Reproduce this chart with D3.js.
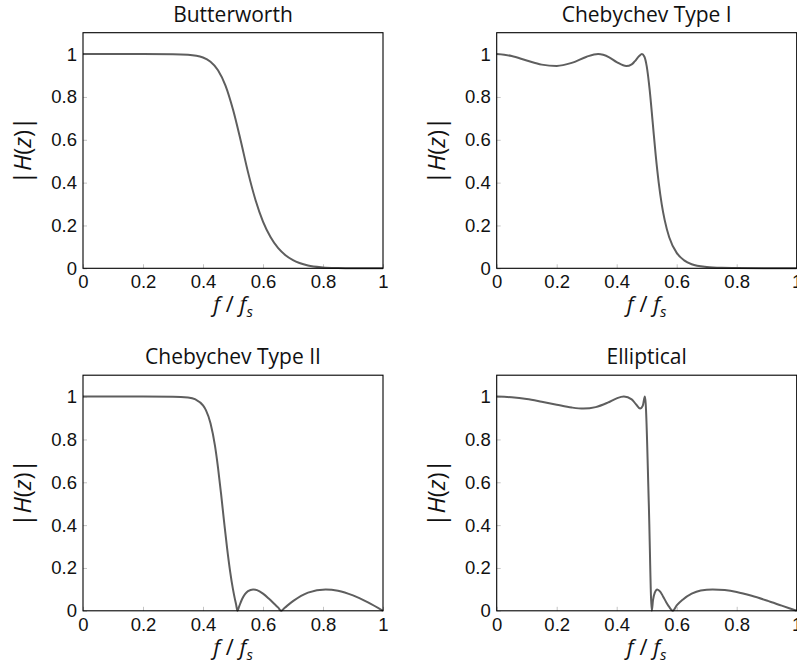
<!DOCTYPE html>
<html>
  <head>
    <meta charset='utf-8'>
    <title>Filter responses</title>
    <script src='https://d3js.org/d3.v7.min.js'></script>
    <style type='text/css'>
      body, html {
        margin: 0;
        padding: 0;
        background: #fff;
        overflow: hidden;
      }
      svg {
        display: block;
        font-family: 'Open Sans', sans-serif;
      }
      .tick line {
        stroke: #c4c4c4;
      }
      .tick text {
        font-size: 18.5px;
        fill: #111;
      }
    </style>
  </head>
  <body>
    <svg width='797' height='667'></svg>

    <script type='text/javascript'>
      // values (normalised frequency f/fs, |H(z)|)
      var butterworthFreq = [0, 0.1, 0.2, 0.3, 0.35, 0.4, 0.425, 0.45, 0.475, 0.5, 0.525, 0.55, 0.575, 0.6, 0.625, 0.65, 0.675, 0.7, 0.75, 0.8, 0.85, 0.9, 1.0]
      var butterworthMag = [1, 1, 1, 0.9995, 0.997, 0.984, 0.964, 0.925, 0.853, 0.741, 0.6, 0.449, 0.319, 0.218, 0.146, 0.095, 0.061, 0.038, 0.013, 0.004, 0.001, 0, 0]

      var cheby1Freq = [0, 0.05, 0.1, 0.15, 0.2, 0.25, 0.3, 0.338, 0.375, 0.4, 0.432, 0.45, 0.46, 0.475, 0.484, 0.492, 0.5, 0.51, 0.52, 0.53, 0.54, 0.55, 0.56, 0.575, 0.6, 0.625, 0.65, 0.7, 0.75, 0.8, 1.0]
      var cheby1Mag = [1, 0.991, 0.970, 0.951, 0.945, 0.959, 0.988, 1.0, 0.985, 0.963, 0.944, 0.952, 0.966, 0.991, 1.0, 0.989, 0.944, 0.832, 0.681, 0.528, 0.40, 0.30, 0.225, 0.145, 0.072, 0.037, 0.019, 0.006, 0.002, 0.001, 0]

      var cheby2Freq = [0, 0.1, 0.2, 0.3, 0.35, 0.375, 0.4, 0.41, 0.425, 0.44, 0.45, 0.46, 0.47, 0.48, 0.49, 0.5, 0.505, 0.51, 0.515, 0.52, 0.53, 0.54, 0.55, 0.567, 0.58, 0.6, 0.62, 0.64, 0.65, 0.661, 0.67, 0.68, 0.7, 0.75, 0.809, 0.85, 0.9, 0.95, 1.0]
      var cheby2Mag = [1, 1, 1, 0.9995, 0.996, 0.987, 0.959, 0.936, 0.876, 0.770, 0.669, 0.549, 0.420, 0.296, 0.188, 0.1, 0.064, 0.032, 0, 0.018, 0.054, 0.078, 0.092, 0.1, 0.0965, 0.080, 0.056, 0.029, 0.016, 0, 0.011, 0.023, 0.045, 0.085, 0.1, 0.094, 0.072, 0.039, 0]

      var ellipticFreq = [0, 0.05, 0.1, 0.15, 0.2, 0.25, 0.289, 0.33, 0.37, 0.4, 0.424, 0.45, 0.465, 0.478, 0.487, 0.494, 0.4965, 0.507, 0.517, 0.521, 0.527, 0.535, 0.545, 0.555, 0.565, 0.575, 0.587, 0.6, 0.62, 0.65, 0.68, 0.72, 0.76, 0.8, 0.85, 0.9, 0.95, 1.0]
      var ellipticMag = [1, 0.997, 0.989, 0.976, 0.962, 0.949, 0.944, 0.951, 0.972, 0.992, 1.0, 0.987, 0.963, 0.944, 0.958, 1.0, 0.97, 0.5, 0, 0.05, 0.085, 0.1, 0.09, 0.066, 0.04, 0.018, 0, 0.025, 0.052, 0.08, 0.095, 0.1, 0.097, 0.088, 0.07, 0.048, 0.024, 0]

      var titles = ['Butterworth', 'Chebychev Type I', 'Chebychev Type II', 'Elliptical']
      var xTickValues = [0, 0.2, 0.4, 0.6, 0.8, 1]
      var xTickLabels = ['0', '0.2', '0.4', '0.6', '0.8', '1']
      var yTickValues = [0, 0.2, 0.4, 0.6, 0.8, 1]
      var yTickLabels = ['0', '0.2', '0.4', '0.6', '0.8', '1']

      var series = [
        {title: titles[0], f: butterworthFreq, h: butterworthMag},
        {title: titles[1], f: cheby1Freq, h: cheby1Mag},
        {title: titles[2], f: cheby2Freq, h: cheby2Mag},
        {title: titles[3], f: ellipticFreq, h: ellipticMag}
      ]

      // layout of the 2x2 grid
      var panelW = 300, panelH = 235.6
      var colX = [83, 496.7]
      var rowY = [32.7, 375.2]

      var svg = d3.select('svg')

      var x = d3.scaleLinear().domain([0, 1]).range([0, panelW])
      var y = d3.scaleLinear().domain([0, 1.1]).range([panelH, 0])

      var line = d3.line()
        .x(function(d) { return x(d[0]) })
        .y(function(d) { return y(d[1]) })
        .curve(d3.curveMonotoneX)

      series.forEach(function(s, i) {
        var g = svg.append('g')
          .attr('transform', 'translate(' + colX[i % 2] + ',' + rowY[Math.floor(i / 2)] + ')')

        var xAxis = d3.axisBottom(x)
          .tickValues(xTickValues)
          .tickFormat(function(d, k) { return xTickLabels[k] })
          .tickSizeInner(-4).tickSizeOuter(0).tickPadding(7)
        var yAxis = d3.axisLeft(y)
          .tickValues(yTickValues)
          .tickFormat(function(d, k) { return yTickLabels[k] })
          .tickSizeInner(-4).tickSizeOuter(0).tickPadding(6)

        g.append('g').attr('transform', 'translate(0,' + panelH + ')').call(xAxis)
          .call(function(a) { a.select('.domain').remove() })
        g.append('g').call(yAxis)
          .call(function(a) { a.select('.domain').remove() })
        g.selectAll('.tick text').attr('font-family', null).attr('font-size', null)

        var pts = s.f.map(function(f, k) { return [f, s.h[k]] })
        g.append('path')
          .datum(pts)
          .attr('fill', 'none')
          .attr('stroke', '#5e5e5e')
          .attr('stroke-width', 2)
          .attr('stroke-linejoin', 'round')
          .attr('d', line)

        g.append('rect')
          .attr('width', panelW).attr('height', panelH)
          .attr('fill', 'none').attr('stroke', '#000').attr('stroke-width', 1.1)

        g.append('text')
          .attr('x', panelW / 2).attr('y', -11)
          .attr('text-anchor', 'middle')
          .attr('font-size', 21).attr('fill', '#111')
          .text(s.title)

        // x label  f / f_s
        var xl = g.append('text')
          .attr('x', panelW / 2).attr('y', panelH + 44)
          .attr('text-anchor', 'middle')
          .attr('font-size', 22).attr('fill', '#111')
        xl.append('tspan').attr('font-style', 'italic').text('f')
        xl.append('tspan').text(' / ')
        xl.append('tspan').attr('font-style', 'italic').text('f')
        xl.append('tspan').attr('font-style', 'italic').attr('font-size', 15).attr('dy', 5).text('s')

        // y label  |H(z)|
        var yl = g.append('text')
          .attr('transform', 'translate(-52,' + (panelH / 2) + ') rotate(-90)')
          .attr('text-anchor', 'middle')
          .attr('font-size', 24).attr('fill', '#111')
        yl.append('tspan').text('|')
        yl.append('tspan').attr('font-style', 'italic').text('H')
        yl.append('tspan').text('(')
        yl.append('tspan').attr('font-style', 'italic').text('z')
        yl.append('tspan').text(')|')
      })
    </script>
  </body>
</html>
